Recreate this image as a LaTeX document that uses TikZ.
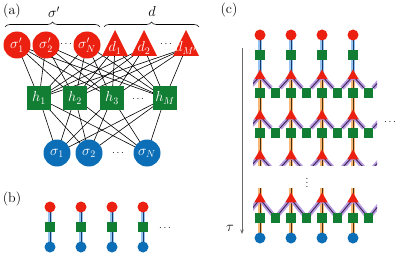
\documentclass[tikz,border=0pt]{standalone}
\usetikzlibrary{decorations.pathreplacing,arrows.meta,shapes.geometric}
\definecolor{cred}{RGB}{236,32,16}
\definecolor{cgreen}{RGB}{18,126,52}
\definecolor{cblue}{RGB}{12,110,182}
\definecolor{bhalo}{RGB}{150,196,240}
\definecolor{bcore}{RGB}{25,55,105}
\definecolor{ohalo}{RGB}{246,184,116}
\definecolor{ocore}{RGB}{70,45,20}
\definecolor{phalo}{RGB}{186,156,226}
\definecolor{pcore}{RGB}{55,35,80}
\definecolor{cgray}{RGB}{105,105,105}
\pgfdeclarelayer{bg}
\pgfsetlayers{bg,main}
\begin{document}
\begin{tikzpicture}[x=1pt,y=-1pt,font=\fontsize{14}{16}\selectfont,
  bigred/.style={circle,fill=cred,minimum size=27pt,inner sep=0pt,text=white},
  bigblue/.style={circle,fill=cblue,minimum size=27pt,inner sep=0pt,text=white},
  biggreen/.style={rectangle,fill=cgreen,minimum size=24pt,inner sep=0pt,text=white},
  tritext/.style={inner sep=0pt,text=white},
  smred/.style={circle,fill=cred,minimum size=11pt,inner sep=0pt},
  smblue/.style={circle,fill=cblue,minimum size=11pt,inner sep=0pt},
  smgreen/.style={rectangle,fill=cgreen,minimum size=9.5pt,inner sep=0pt},
  smtri/.style={regular polygon,regular polygon sides=3,fill=cred,minimum size=13pt,inner sep=0pt},
  edge/.style={line width=0.6pt,black},
  bhaloline/.style={line width=4pt,bhalo},
  bcoreline/.style={line width=0.9pt,bcore},
  ohaloline/.style={line width=4pt,ohalo},
  ocoreline/.style={line width=0.9pt,ocore},
  phaloline/.style={line width=4.5pt,phalo,line join=round},
  pcoreline/.style={line width=0.9pt,pcore,line join=round},
  bracestyle/.style={decorate,decoration={brace,amplitude=5pt},line width=0.6pt},
  dotsnode/.style={inner sep=0pt,font=\fontsize{10}{12}\selectfont}]
\useasboundingbox (0,0) rectangle (399,270);

% ---------------- (a)
\node (la) at (12,11) {(a)};
\node (lsig) at (54,12) {$\sigma'$};
\node (ld) at (152,12) {$d$};
\draw[bracestyle] (5,27) -- (100,27);
\draw[bracestyle] (104,27) -- (199,27);

\node[bigred] (t1) at (17,45) {$\sigma'_1$};
\node[bigred] (t2) at (46,45) {$\sigma'_2$};
\node[bigred] (t3) at (87,45) {$\sigma'_N$};
\node[dotsnode] (tdots) at (66,44) {$\cdots$};
\foreach \x/\n/\t in {115/d1/{d_1},144/d2/{d_2},186/d3/{d_{M'}}} {
  \fill[cred] (\x,30) -- (\x+13,56) -- (\x-13,56) -- cycle;
  \node[tritext] (\n) at (\x,48) {$\t$};
}
\node[dotsnode] (ddots) at (166,44) {$\cdots$};

\node[biggreen] (h1) at (39,98) {$h_1$};
\node[biggreen] (h2) at (75,98) {$h_2$};
\node[biggreen] (h3) at (112,98) {$h_3$};
\node[biggreen] (h4) at (165,98) {$h_M$};
\node[dotsnode] (hdots) at (138,99) {$\cdots$};

\node[bigblue] (b1) at (57,153) {$\sigma_1$};
\node[bigblue] (b2) at (89,153) {$\sigma_2$};
\node[bigblue] (b3) at (147,153) {$\sigma_N$};
\node[dotsnode] (bdots) at (118,153) {$\cdots$};

\begin{pgfonlayer}{bg}
\foreach \a in {t1,t2,t3,d1,d2,d3}
  \foreach \b in {h1,h2,h3,h4}
    \draw[edge] (\a.center) -- (\b.center);
\foreach \a in {h1,h2,h3,h4}
  \foreach \b in {b1,b2,b3}
    \draw[edge] (\a.center) -- (\b.center);
\end{pgfonlayer}

% ---------------- (b)
\node (lb) at (12,199) {(b)};
\foreach \x [count=\i] in {50,81,112,143} {
  \node[smred] (pr\i) at (\x,207) {};
  \node[smgreen] (pg\i) at (\x,227) {};
  \node[smblue] (pb\i) at (\x,247) {};
  \begin{pgfonlayer}{bg}
    \draw[bhaloline] (pr\i.center) -- (pb\i.center);
    \draw[bcoreline] (pr\i.center) -- (pb\i.center);
  \end{pgfonlayer}
}
\node[dotsnode] (pdots) at (165,228) {$\cdots$};

% ---------------- (c)
\node (lc) at (229,10) {(c)};
\foreach \x [count=\i] in {260,291,322,353} {
  \node[smred] (cr\i) at (\x,35) {};
  \node[smgreen] (cs\i) at (\x,55) {};
  \node[smtri] (ct1\i) at (\x,76) {};
  \node[smgreen] (cq1\i) at (\x,93) {};
  \node[smgreen] (cm1\i) at (\x+15.5,93) {};
  \node[smtri] (ct2\i) at (\x,116) {};
  \node[smgreen] (cq2\i) at (\x,133) {};
  \node[smgreen] (cm2\i) at (\x+15.5,133) {};
  \node[smtri] (ct3\i) at (\x,156) {};
  \coordinate (cm3\i) at (\x+15.5,173);
  \coordinate (ce\i) at (\x,175);
  \coordinate (cf\i) at (\x,180);
  \node[smtri] (ct4\i) at (\x,199) {};
  \node[smgreen] (cq4\i) at (\x,218) {};
  \node[smgreen] (cm4\i) at (\x+15.5,218) {};
  \node[smblue] (cb\i) at (\x,238) {};
}
\foreach \r/\y/\m in {1/76/93,2/116/133,3/156/173,4/199/218} {
  \coordinate (cL\r) at (244.5,\m);
  \coordinate (cR\r) at (384,\y);
}
\node[dotsnode] (cdots) at (390,122) {$\cdots$};
\node[dotsnode] (vdots) at (307,180) {$\vdots$};
\coordinate (tauA) at (242,48);
\coordinate (tauB) at (242,234);
\node (tau) at (230,228) {$\tau$};
\draw[cgray,line width=0.8pt,-{Stealth[length=4.5pt,width=3.5pt]}] (tauA) -- (tauB);

\begin{pgfonlayer}{bg}
\foreach \i in {1,2,3,4} {
  \draw[bhaloline] (cr\i.center) -- (ct1\i.center);
  \draw[bcoreline] (cr\i.center) -- (ct1\i.center);
}
\begin{scope}
  \clip (253,60) rectangle (377,165);
  \foreach \i in {1,2,3,4} {
    \draw[ohaloline] (ct1\i.center) -- (ce\i);
    \draw[ocoreline] (ct1\i.center) -- (ce\i);
  }
  \foreach \r in {1,2,3} {
    \draw[phaloline] (cL\r) -- (ct\r1.center) -- (cm\r1) -- (ct\r2.center) -- (cm\r2) -- (ct\r3.center) -- (cm\r3) -- (ct\r4.center) -- (cm\r4) -- (cR\r);
    \draw[pcoreline] (cL\r) -- (ct\r1.center) -- (cm\r1) -- (ct\r2.center) -- (cm\r2) -- (ct\r3.center) -- (cm\r3) -- (ct\r4.center) -- (cm\r4) -- (cR\r);
  }
\end{scope}
\begin{scope}
  \clip (253,188) rectangle (377,245);
  \foreach \i in {1,2,3,4} {
    \draw[ohaloline] (cf\i) -- (cb\i.center);
    \draw[ocoreline] (cf\i) -- (cb\i.center);
  }
  \draw[phaloline] (cL4) -- (ct41.center) -- (cm41.center) -- (ct42.center) -- (cm42.center) -- (ct43.center) -- (cm43.center) -- (ct44.center) -- (cm44.center) -- (cR4);
  \draw[pcoreline] (cL4) -- (ct41.center) -- (cm41.center) -- (ct42.center) -- (cm42.center) -- (ct43.center) -- (cm43.center) -- (ct44.center) -- (cm44.center) -- (cR4);
\end{scope}
\end{pgfonlayer}
\end{tikzpicture}
\end{document}
